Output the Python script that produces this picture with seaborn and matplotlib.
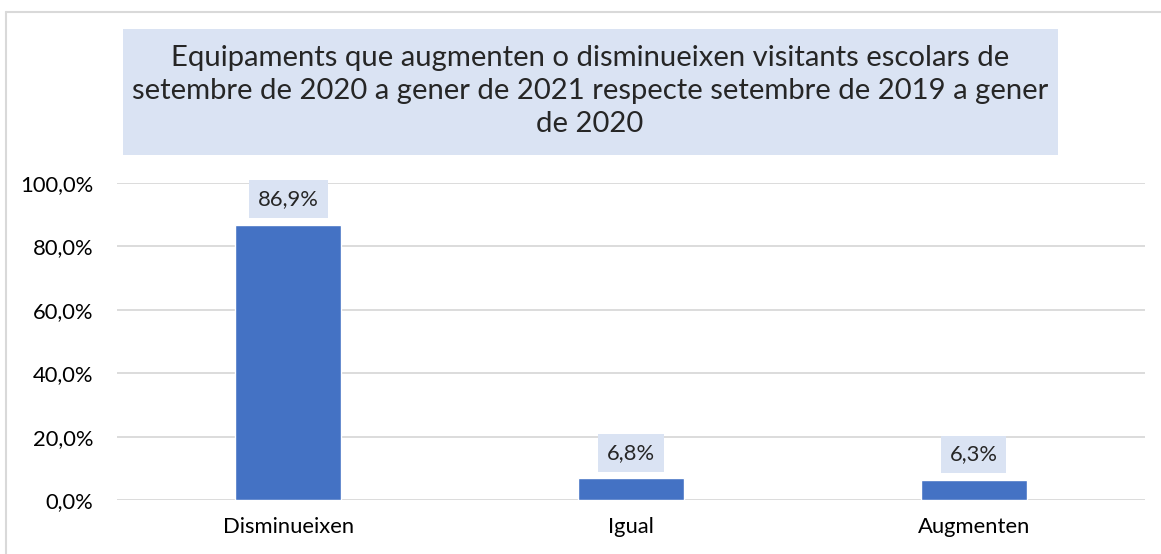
"""Equipaments que augmenten o disminueixen visitants escolars."""

import matplotlib
import matplotlib.pyplot as plt
import seaborn as sns
import pandas as pd
from matplotlib.patches import Rectangle
from matplotlib.lines import Line2D

matplotlib.use('Agg')

categories = ['Disminueixen', 'Igual', 'Augmenten']
values = [86.9, 6.8, 6.3]
y_ticks = [0, 20, 40, 60, 80, 100]

title = ("Equipaments que augmenten o disminueixen visitants escolars de\n"
         "setembre de 2020 a gener de 2021 respecte setembre de 2019 a gener\n"
         "de 2020")

BAR_COLOR = '#4472C4'
BOX_COLOR = '#DAE3F3'
GRID_COLOR = '#D9D9D9'

sns.set_style("white")
plt.rcParams['font.family'] = ['Lato', 'DejaVu Sans']

W, H = 1161, 554
fig = plt.figure(figsize=(W / 100, H / 100), dpi=100)
ax = fig.add_axes([117 / W, 1 - 500 / H, (1145 - 117) / W, (500 - 183) / H])

df = pd.DataFrame({'cat': categories, 'val': values})
sns.barplot(data=df, x='cat', y='val', color=BAR_COLOR, width=0.31,
            saturation=1, ax=ax)

ax.set_ylim(0, 100)
ax.set_xlim(-0.5, len(categories) - 0.5)
ax.set_yticks(y_ticks)
ax.set_yticklabels([f"{t:.1f}%".replace('.', ',') for t in y_ticks])
ax.set_xlabel('')
ax.set_ylabel('')
ax.tick_params(axis='both', length=0, labelsize=15.8, colors='#000000')
ax.tick_params(axis='y', pad=17)
ax.tick_params(axis='x', pad=12)
for t in y_ticks:
    ax.axhline(t, color=GRID_COLOR, lw=1.3, zorder=0)
for s in ax.spines.values():
    s.set_visible(False)

# value labels
for i, v in enumerate(values):
    ax.annotate(f"{v:.1f}%".replace('.', ','), (i, v), xytext=(0, 18.5),
                textcoords='offset points', ha='center', va='center',
                fontsize=15.8,
                bbox=dict(boxstyle='square,pad=0.4', fc=BOX_COLOR, ec='none'))

# title box
fig.patches.append(Rectangle((123 / W, 1 - 155 / H), (1058 - 123) / W,
                             (155 - 29) / H, transform=fig.transFigure,
                             facecolor=BOX_COLOR, edgecolor='none', zorder=0))
fig.text(590 / W, 1 - 91 / H, title, ha='center', va='center',
         fontsize=21.1, linespacing=1.32)

# outer chart frame (partly cut off in the original)
fig.lines.append(Line2D([5.5 / W, 5.5 / W], [1 - 12 / H, 0],
                        transform=fig.transFigure, color=GRID_COLOR, lw=1.5))
fig.lines.append(Line2D([5.5 / W, 1], [1 - 12 / H, 1 - 12 / H],
                        transform=fig.transFigure, color=GRID_COLOR, lw=1.5))

fig.savefig('out.png', dpi=100)
